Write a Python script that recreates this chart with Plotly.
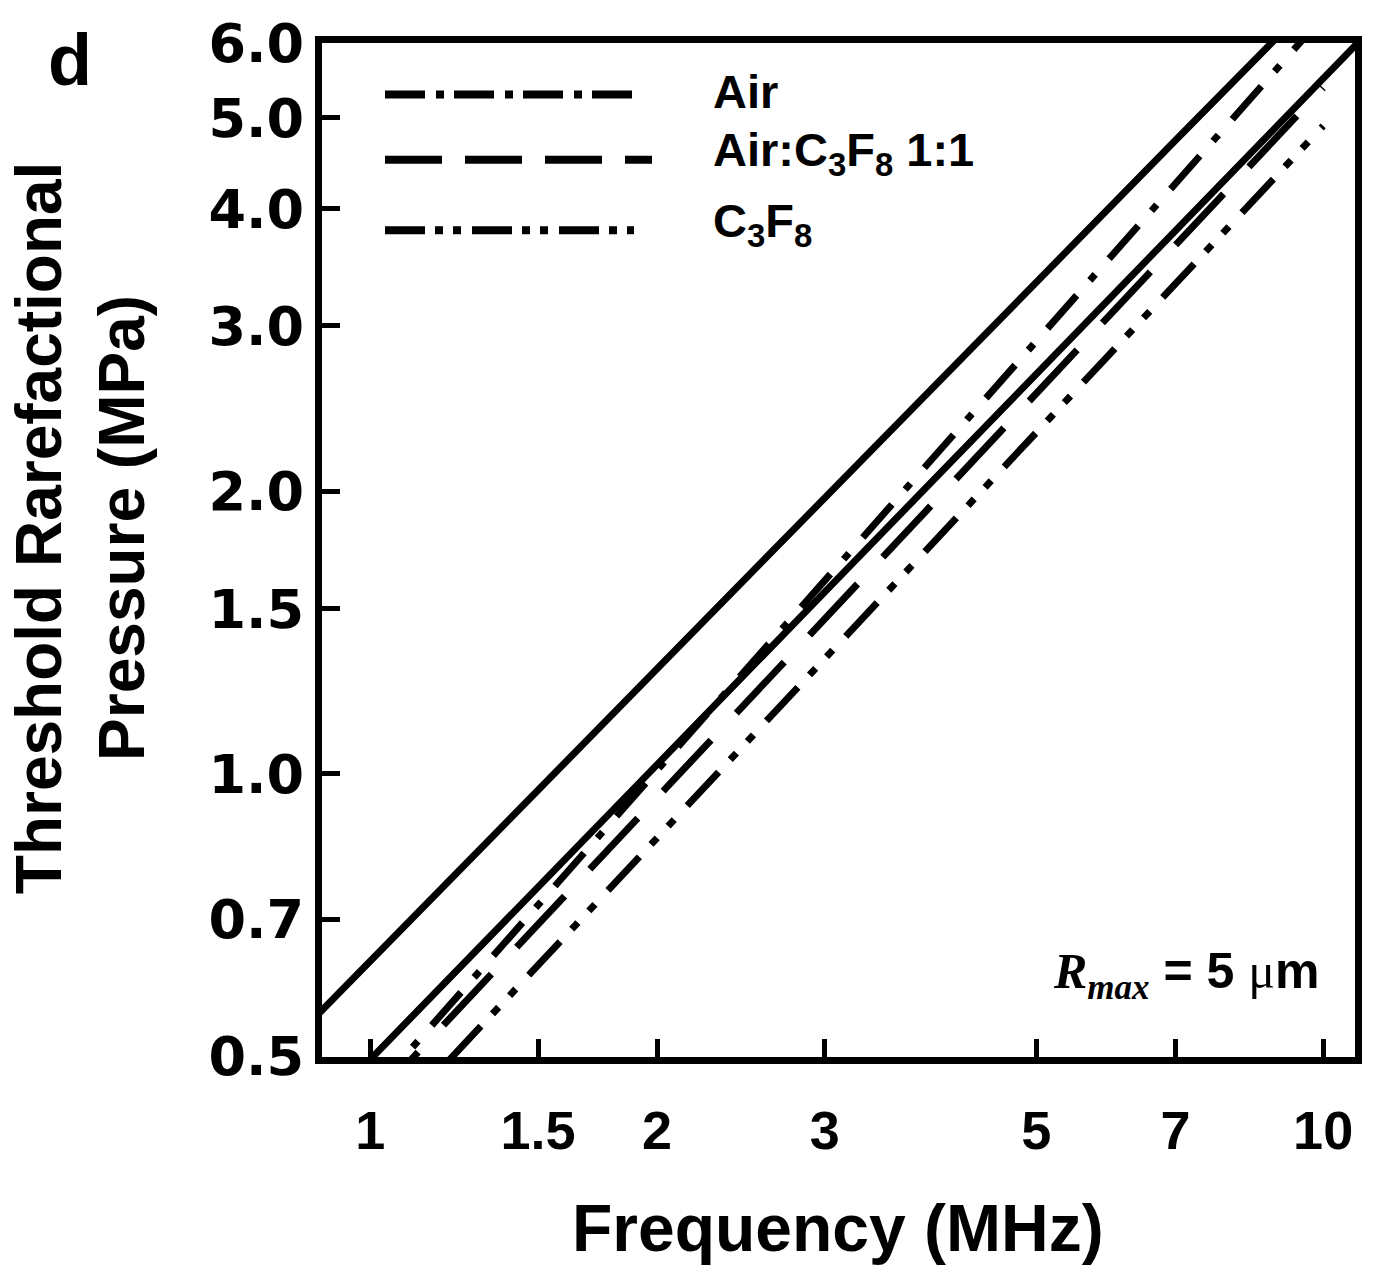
import numpy as np
import plotly.graph_objects as go

# ---------------- data ----------------
freq_solid = [0.85, 1.0, 1.5, 2.0, 3.0, 5.0, 7.0, 10.0, 11.0]
p_solid_upper = [0.534, 0.632, 0.961, 1.294, 1.969, 3.34, 4.73, 6.83, 7.55]
p_solid_lower = [0.419, 0.496, 0.758, 1.023, 1.563, 2.666, 3.787, 5.50, 6.08]

freq_gas = [1.0, 1.5, 2.0, 3.0, 5.0, 7.0, 10.0]
p_air = [0.455, 0.725, 1.009, 1.607, 2.89, 4.25, 6.41]
p_air_c3f8 = [0.446, 0.692, 0.944, 1.464, 2.544, 3.66, 5.38]
p_c3f8 = [0.403, 0.626, 0.855, 1.327, 2.31, 3.32, 4.90]

legend_names = ["Air", "Air:C<sub>3</sub>F<sub>8</sub> 1:1", "C<sub>3</sub>F<sub>8</sub>"]

x_ticks = [1, 1.5, 2, 3, 5, 7, 10]
x_ticktext = ["1", "1.5", "2", "3", "5", "7", "10"]
y_ticks = [0.5, 0.7, 1.0, 1.5, 2.0, 3.0, 4.0, 5.0, 6.0]
y_ticktext = ["0.5", "0.7", "1.0", "1.5", "2.0", "3.0", "4.0", "5.0", "6.0"]

# ---------------- geometry ----------------
W, H = 1375, 1277
L, R, T, B = 322, 1355, 33, 1057
PW, PH = R - L, B - T


def px(x):
    return (x - L) / PW


def py(y):
    return (B - y) / PH


LW = 7
dash_plot = {
    "air": "44px,20px,8px,21px",
    "mix": "70px,37px",
    "c3f8": "46px,17px,9px,16px,9px,19px",
}
dash_leg = {
    "air": "40px,11px,8px,10px",
    "mix": "57px,23px",
    "c3f8": "40px,10px,8px,10px,8px,11px",
}

fig = go.Figure()
fig.add_trace(go.Scatter(x=freq_solid, y=p_solid_upper, mode="lines",
                         line=dict(color="black", width=LW), showlegend=False))
fig.add_trace(go.Scatter(x=freq_solid, y=p_solid_lower, mode="lines",
                         line=dict(color="black", width=LW), showlegend=False))
fig.add_trace(go.Scatter(x=freq_gas, y=p_air, mode="lines", name="Air",
                         line=dict(color="black", width=LW, dash=dash_plot["air"]),
                         showlegend=False))
fig.add_trace(go.Scatter(x=freq_gas, y=p_air_c3f8, mode="lines", name="Air:C3F8 1:1",
                         line=dict(color="black", width=LW, dash=dash_plot["mix"]),
                         showlegend=False))
fig.add_trace(go.Scatter(x=freq_gas, y=p_c3f8, mode="lines", name="C3F8",
                         line=dict(color="black", width=LW, dash=dash_plot["c3f8"]),
                         showlegend=False))

# ---------------- custom legend ----------------
shapes = []
annotations = []
leg_rows = [(85, 635, "air"), (151, 652, "mix"), (222, 634, "c3f8")]
text_y = [82, 144, 216]
for (yy, xend, key), name, ty in zip(leg_rows, legend_names, text_y):
    shapes.append(dict(type="line", xref="paper", yref="paper",
                       x0=px(385), x1=px(xend), y0=py(yy), y1=py(yy),
                       line=dict(color="black", width=8, dash=dash_leg[key])))
    annotations.append(dict(xref="paper", yref="paper", x=px(711), y=py(ty),
                            xanchor="left", yanchor="middle", showarrow=False,
                            text=name,
                            font=dict(family="Liberation Sans", size=47,
                                      color="black", weight="bold")))

# panel label
annotations.append(dict(xref="paper", yref="paper", x=px(70), y=py(50),
                        xanchor="center", yanchor="middle", showarrow=False,
                        text="d", font=dict(family="Liberation Sans", size=72,
                                            color="black", weight="bold")))

# R_max annotation
annotations.append(dict(
    xref="paper", yref="paper", x=px(1322), y=py(974),
    xanchor="right", yanchor="middle", showarrow=False,
    text=('<span style="font-family:Liberation Serif"><b><i>R</i></b>'
          '<sub><b><i>max</i></b></sub></span> <b>= 5 </b>'
          '<span style="font-family:Liberation Serif">\u03bc</span><b>m</b>'),
    font=dict(family="Liberation Sans", size=50, color="black")))

# axis titles
annotations.append(dict(xref="paper", yref="paper", x=px(838), y=py(1230),
                        xanchor="center", yanchor="middle", showarrow=False,
                        text="Frequency (MHz)",
                        font=dict(family="Liberation Sans", size=66,
                                  color="black", weight="bold")))
annotations.append(dict(xref="paper", yref="paper", x=px(80), y=py(523),
                        xanchor="center", yanchor="middle", showarrow=False,
                        textangle=-90,
                        text="Threshold Rarefactional<br>Pressure (MPa)",
                        font=dict(family="Liberation Sans", size=64,
                                  color="black", weight="bold")))

axis_common = dict(type="log", showgrid=False, zeroline=False, showline=True,
                   linewidth=LW, linecolor="black", mirror=True,
                   ticks="inside", ticklen=18, tickwidth=5, tickcolor="black")

fig.update_layout(
    width=W, height=H,
    margin=dict(l=L, r=W - R, t=T, b=H - B),
    plot_bgcolor="white", paper_bgcolor="white",
    xaxis=dict(range=[np.log10(0.89), np.log10(10.8)],
               tickvals=x_ticks, ticktext=x_ticktext,
               tickfont=dict(family="Liberation Sans", size=54,
                             color="black", weight="bold"),
               ticklabelstandoff=20, **axis_common),
    yaxis=dict(range=[np.log10(0.4995), np.log10(6.005)],
               tickvals=y_ticks, ticktext=y_ticktext,
               tickfont=dict(family="DejaVu Sans", size=54,
                             color="black", weight="bold"),
               ticklabelstandoff=0, **axis_common),
    shapes=shapes,
    annotations=annotations,
)

fig.write_html("out.html")
